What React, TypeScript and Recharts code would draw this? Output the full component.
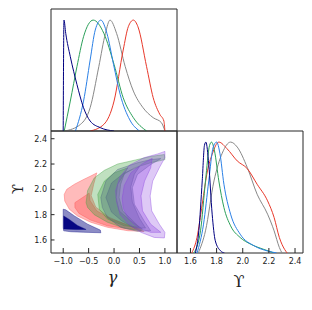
import React from "react";
import { LineChart, Line, XAxis, YAxis, ReferenceArea, ScatterChart, Scatter } from "recharts";

const W = 312;
const H = 310;
const FRAME = "#262626";
const TEXT = "#222";

const NAVY = "#000080";
const GREEN = "#2ca05a";
const BLUE = "#2a80e6";
const GRAY = "#888888";
const RED = "#e8382a";

const GAMMA_DOMAIN: [number, number] = [-1.24, 1.238];
const UPS_DOMAIN: [number, number] = [1.497, 2.461];
const DENS_DOMAIN: [number, number] = [0, 1.1];

const gammaTicks = [-1, -0.5, 0, 0.5, 1];
const gammaSharedTicks = [-1, 0, 1];
const upsTicks = [1.6, 1.8, 2.0, 2.2, 2.4];

// 1D marginals for gamma, [gamma, density]
const gammaNavy = [[-1.0, 0], [-0.985, 1.0], [-0.95, 0.88], [-0.86, 0.67], [-0.73, 0.42], [-0.6, 0.21], [-0.47, 0.09], [-0.27, 0.03], [0, 0]];
const gammaGreen = [[-0.98, 0], [-0.86, 0.27], [-0.73, 0.58], [-0.6, 0.85], [-0.41, 1.0], [-0.2, 0.88], [0, 0.6], [0.18, 0.3], [0.38, 0.12], [0.64, 0]];
const gammaBlue = [[-0.76, 0], [-0.6, 0.27], [-0.47, 0.64], [-0.37, 0.91], [-0.26, 1.0], [-0.14, 0.88], [-0.01, 0.6], [0.12, 0.33], [0.31, 0.1], [0.5, 0]];
const gammaGray = [[-0.97, 0], [-0.66, 0.06], [-0.47, 0.21], [-0.3, 0.58], [-0.17, 0.88], [-0.08, 1.0], [0.05, 0.88], [0.22, 0.58], [0.38, 0.36], [0.57, 0.21], [0.77, 0.12], [0.93, 0.076], [1.0, 0]];
const gammaRed = [[-0.47, 0], [-0.2, 0.06], [0.0, 0.27], [0.18, 0.73], [0.28, 0.94], [0.38, 1.0], [0.47, 0.94], [0.64, 0.58], [0.77, 0.3], [0.9, 0.15], [0.98, 0.09], [1.0, 0]];

// 1D marginals for Upsilon
const upsNavy = [[1.638, 0], [1.664, 0.2], [1.69, 0.65], [1.707, 0.97], [1.718, 1.0], [1.74, 0.8], [1.766, 0.35], [1.79, 0.11], [1.83, 0.02], [1.86, 0]];
const upsGreen = [[1.626, 0], [1.677, 0.2], [1.715, 0.65], [1.746, 0.97], [1.761, 1.0], [1.784, 0.92], [1.817, 0.65], [1.856, 0.41], [1.907, 0.245], [1.98, 0.14], [2.06, 0.08], [2.16, 0.033], [2.24, 0]];
const upsBlue = [[1.65, 0], [1.7, 0.26], [1.74, 0.65], [1.774, 0.955], [1.8, 1.0], [1.825, 0.9], [1.856, 0.62], [1.907, 0.35], [1.98, 0.17], [2.09, 0.063], [2.19, 0.018], [2.26, 0]];
const upsRed = [[1.61, 0], [1.65, 0.14], [1.69, 0.44], [1.73, 0.74], [1.766, 0.89], [1.817, 1.0], [1.88, 0.94], [1.958, 0.83], [2.035, 0.76], [2.11, 0.62], [2.19, 0.47], [2.24, 0.32], [2.28, 0.14], [2.32, 0.033], [2.34, 0]];
const upsGray = [[1.66, 0], [1.715, 0.2], [1.78, 0.65], [1.843, 0.9], [1.907, 1.0], [1.958, 0.955], [2.035, 0.77], [2.11, 0.53], [2.19, 0.35], [2.24, 0.2], [2.28, 0.05], [2.3, 0]];

// 2D contours (gamma, Upsilon), outer = 95%, inner = 68%
const navyOuter = [[-1.0, 1.843], [-0.95, 1.838], [-0.78, 1.79], [-0.52, 1.725], [-0.27, 1.678], [-0.26, 1.657], [-0.6, 1.661], [-0.85, 1.665], [-0.99, 1.672], [-1.0, 1.7]];
const navyInner = [[-0.99, 1.79], [-0.88, 1.762], [-0.72, 1.715], [-0.55, 1.683], [-0.75, 1.682], [-0.99, 1.686]];
const redOuter = [[-0.34, 2.13], [-0.4, 2.04], [-0.45, 1.95], [-0.36, 1.86], [-0.1, 1.78], [0.3, 1.71], [0.59, 1.668], [0.27, 1.673], [-0.13, 1.7], [-0.46, 1.74], [-0.72, 1.79], [-0.88, 1.843], [-0.97, 1.908], [-0.98, 1.96], [-0.93, 2.0], [-0.78, 2.04], [-0.59, 2.08], [-0.46, 2.105]];
const redInner = [[-0.77, 1.895], [-0.62, 1.935], [-0.49, 1.97], [-0.47, 1.91], [-0.34, 1.83], [-0.06, 1.765], [0.33, 1.712], [0.54, 1.684], [0.33, 1.684], [-0.13, 1.712], [-0.46, 1.757], [-0.69, 1.81], [-0.77, 1.857]];
const greenOuter = [[-0.55, 1.895], [-0.52, 1.99], [-0.39, 2.09], [-0.19, 2.15], [0.07, 2.2], [0.4, 2.23], [0.72, 2.26], [0.99, 2.275], [1.0, 2.235], [0.72, 2.21], [0.4, 2.17], [0.2, 2.12], [0.07, 2.04], [0.04, 1.935], [0.1, 1.83], [0.33, 1.75], [0.56, 1.686], [0.53, 1.673], [0.2, 1.694], [-0.13, 1.74], [-0.39, 1.8], [-0.52, 1.857]];
const greenInner = [[-0.32, 1.96], [-0.19, 2.065], [0.0, 2.13], [0.27, 2.17], [0.2, 2.12], [0.13, 2.04], [0.1, 1.935], [0.17, 1.83], [0.4, 1.74], [0.5, 1.7], [0.2, 1.712], [-0.13, 1.765], [-0.29, 1.843]];
const steelOuter = [[-0.26, 1.935], [-0.16, 2.065], [0.07, 2.157], [0.46, 2.21], [0.72, 2.235], [0.92, 2.243], [0.72, 2.196], [0.46, 2.118], [0.36, 2.013], [0.4, 1.882], [0.59, 1.752], [0.72, 1.673], [0.46, 1.668], [0.13, 1.7], [-0.13, 1.778], [-0.23, 1.856]];
const steelInner = [[-0.16, 1.935], [-0.05, 2.05], [0.2, 2.13], [0.5, 2.18], [0.4, 2.12], [0.33, 2.02], [0.36, 1.9], [0.5, 1.77], [0.62, 1.694], [0.4, 1.694], [0.15, 1.752], [-0.05, 1.82]];
const purpleOuter = [[0.05, 1.9], [0.03, 1.99], [0.12, 2.1], [0.3, 2.19], [0.59, 2.25], [0.86, 2.28], [1.0, 2.3], [1.0, 2.25], [0.89, 2.17], [0.76, 2.065], [0.71, 1.948], [0.74, 1.83], [0.89, 1.725], [1.0, 1.66], [0.99, 1.616], [0.79, 1.62], [0.53, 1.66], [0.3, 1.72], [0.12, 1.8]];
const purpleInner = [[0.16, 1.93], [0.2, 2.03], [0.33, 2.13], [0.55, 2.2], [0.75, 2.245], [0.72, 2.17], [0.6, 2.065], [0.53, 1.948], [0.56, 1.83], [0.72, 1.725], [0.92, 1.66], [0.72, 1.66], [0.46, 1.7], [0.28, 1.77], [0.18, 1.85]];

const gammaSeries = [
  { id: "gray", color: GRAY, data: gammaGray },
  { id: "red", color: RED, data: gammaRed },
  { id: "green", color: GREEN, data: gammaGreen },
  { id: "blue", color: BLUE, data: gammaBlue },
  { id: "navy", color: NAVY, data: gammaNavy },
];

const upsSeries = [
  { id: "gray", color: GRAY, data: upsGray },
  { id: "red", color: RED, data: upsRed },
  { id: "green", color: GREEN, data: upsGreen },
  { id: "blue", color: BLUE, data: upsBlue },
  { id: "navy", color: NAVY, data: upsNavy },
];

const contours = [
  { id: "navy95", color: "#00007f", opacity: 0.45, data: navyOuter },
  { id: "navy68", color: "#00007f", opacity: 0.95, data: navyInner },
  { id: "red95", color: "#ff4d4d", opacity: 0.38, data: redOuter },
  { id: "red68", color: "#ff4d4d", opacity: 0.38, data: redInner },
  { id: "green95", color: "#3fa03f", opacity: 0.33, data: greenOuter },
  { id: "green68", color: "#3fa03f", opacity: 0.33, data: greenInner },
  { id: "steel95", color: "#4a6080", opacity: 0.3, data: steelOuter },
  { id: "steel68", color: "#4a6080", opacity: 0.3, data: steelInner },
  { id: "purple95", color: "#8a3ee0", opacity: 0.28, data: purpleOuter },
  { id: "purple68", color: "#8a3ee0", opacity: 0.3, data: purpleInner },
];

const toPts = (arr: number[][]) => arr.map(([x, y]) => ({ x, y }));

const fmt = (v: number) => (v < 0 ? "\u2212" + Math.abs(v).toFixed(1) : v.toFixed(1));

const tickFont = { fontFamily: "DejaVu Sans", fontSize: 8, fill: TEXT };

function BottomTick(p: any) {
  return (
    <g>
      <line x1={p.x} x2={p.x} y1={p.y} y2={p.y - 5} stroke={FRAME} strokeWidth={1} />
      <text x={p.x} y={p.y + 10.5} textAnchor="middle" {...tickFont}>
        {fmt(p.payload.value)}
      </text>
    </g>
  );
}

function LeftTick(p: any) {
  return (
    <g>
      <line x1={p.x} x2={p.x + 3.5} y1={p.y} y2={p.y} stroke={FRAME} strokeWidth={1} />
      <text x={p.x - 4} y={p.y + 2.9} textAnchor="end" {...tickFont}>
        {fmt(p.payload.value)}
      </text>
    </g>
  );
}

function CrossTickV(p: any) {
  return <line x1={p.x - 4} x2={p.x + 4} y1={p.y} y2={p.y} stroke={FRAME} strokeWidth={1} />;
}

function CrossTickH(p: any) {
  return <line x1={p.x} x2={p.x} y1={p.y - 4} y2={p.y + 4} stroke={FRAME} strokeWidth={1} />;
}

const layer: React.CSSProperties = { position: "absolute", left: 0, top: 0 };

export default function App() {
  return (
    <div style={{ position: "absolute", left: 0, top: 0, width: W, height: H, background: "#fff" }}>
      <div style={layer}>
        <LineChart width={W} height={H} margin={{ top: 9, left: 51, right: 135, bottom: 179 }}>
          <XAxis type="number" dataKey="x" domain={GAMMA_DOMAIN} allowDataOverflow hide />
          <YAxis type="number" domain={DENS_DOMAIN} allowDataOverflow hide />
          {gammaSeries.map((s) => (
            <Line
              key={s.id}
              data={toPts(s.data)}
              dataKey="y"
              type="monotone"
              stroke={s.color}
              strokeWidth={1}
              dot={false}
              isAnimationActive={false}
            />
          ))}
          <ReferenceArea
            x1={GAMMA_DOMAIN[0]}
            x2={GAMMA_DOMAIN[1]}
            y1={DENS_DOMAIN[0]}
            y2={DENS_DOMAIN[1]}
            fill="none"
            stroke={FRAME}
            strokeWidth={1}
            ifOverflow="visible"
          />
        </LineChart>
      </div>

      <div style={layer}>
        <ScatterChart width={W} height={H} margin={{ top: 131, left: 0, right: 135, bottom: 17 }}>
          <XAxis
            type="number"
            dataKey="x"
            domain={GAMMA_DOMAIN}
            ticks={gammaTicks}
            allowDataOverflow
            height={40}
            axisLine={false}
            tickLine={false}
            tickSize={0}
            tickMargin={0}
            tick={BottomTick}
            label={(p: any) => (
              <text
                x={p.viewBox.x + p.viewBox.width / 2 - 1.5}
                y={p.viewBox.y + 30}
                textAnchor="middle"
                fontFamily="DejaVu Serif"
                fontStyle="italic"
                fontSize={16}
                fill={TEXT}
              >
                γ
              </text>
            )}
          />
          <XAxis
            xAxisId="t"
            orientation="top"
            type="number"
            domain={GAMMA_DOMAIN}
            ticks={gammaSharedTicks}
            allowDataOverflow
            height={0}
            axisLine={false}
            tickLine={false}
            tickSize={0}
            tickMargin={0}
            tick={CrossTickH}
          />
          <YAxis
            type="number"
            dataKey="y"
            domain={UPS_DOMAIN}
            ticks={upsTicks}
            allowDataOverflow
            width={51}
            axisLine={false}
            tickLine={false}
            tickSize={0}
            tickMargin={0}
            tick={LeftTick}
          />
          <YAxis
            yAxisId="r"
            orientation="right"
            type="number"
            domain={UPS_DOMAIN}
            ticks={upsTicks}
            allowDataOverflow
            width={0}
            axisLine={false}
            tickLine={false}
            tickSize={0}
            tickMargin={0}
            tick={CrossTickV}
          />
          {contours.map((c) => (
            <Scatter
              key={c.id}
              data={toPts(c.data)}
              line={{ fill: c.color, fillOpacity: c.opacity, stroke: c.color, strokeOpacity: 0.55, strokeWidth: 0.7 }}
              lineType="joint"
              lineJointType="linearClosed"
              shape={() => <g />}
              isAnimationActive={false}
            />
          ))}
          <ReferenceArea
            x1={GAMMA_DOMAIN[0]}
            x2={GAMMA_DOMAIN[1]}
            y1={UPS_DOMAIN[0]}
            y2={UPS_DOMAIN[1]}
            fill="none"
            stroke={FRAME}
            strokeWidth={1}
            ifOverflow="visible"
          />
        </ScatterChart>
      </div>

      <div style={layer}>
        <LineChart width={W} height={H} margin={{ top: 131, left: 177, right: 9, bottom: 17 }}>
          <XAxis
            type="number"
            dataKey="x"
            domain={UPS_DOMAIN}
            ticks={upsTicks}
            allowDataOverflow
            height={40}
            axisLine={false}
            tickLine={false}
            tickSize={0}
            tickMargin={0}
            tick={BottomTick}
            label={(p: any) => (
              <text
                x={p.viewBox.x + p.viewBox.width / 2 - 1}
                y={p.viewBox.y + 33.7}
                textAnchor="middle"
                fontFamily="DejaVu Serif"
                fontSize={16}
                fill={TEXT}
              >
                ϒ
              </text>
            )}
          />
          <YAxis type="number" domain={DENS_DOMAIN} allowDataOverflow hide />
          {upsSeries.map((s) => (
            <Line
              key={s.id}
              data={toPts(s.data)}
              dataKey="y"
              type="monotone"
              stroke={s.color}
              strokeWidth={1}
              dot={false}
              isAnimationActive={false}
            />
          ))}
          <ReferenceArea
            x1={UPS_DOMAIN[0]}
            x2={UPS_DOMAIN[1]}
            y1={DENS_DOMAIN[0]}
            y2={DENS_DOMAIN[1]}
            fill="none"
            stroke={FRAME}
            strokeWidth={1}
            ifOverflow="visible"
          />
        </LineChart>
      </div>

      <div
        style={{
          position: "absolute",
          left: 17.7,
          top: 188.8,
          transform: "translate(-50%, -50%) rotate(-90deg)",
          fontFamily: "DejaVu Serif",
          fontSize: 15,
          lineHeight: 1,
          color: TEXT,
          whiteSpace: "nowrap",
        }}
      >
        ϒ
      </div>
    </div>
  );
}
